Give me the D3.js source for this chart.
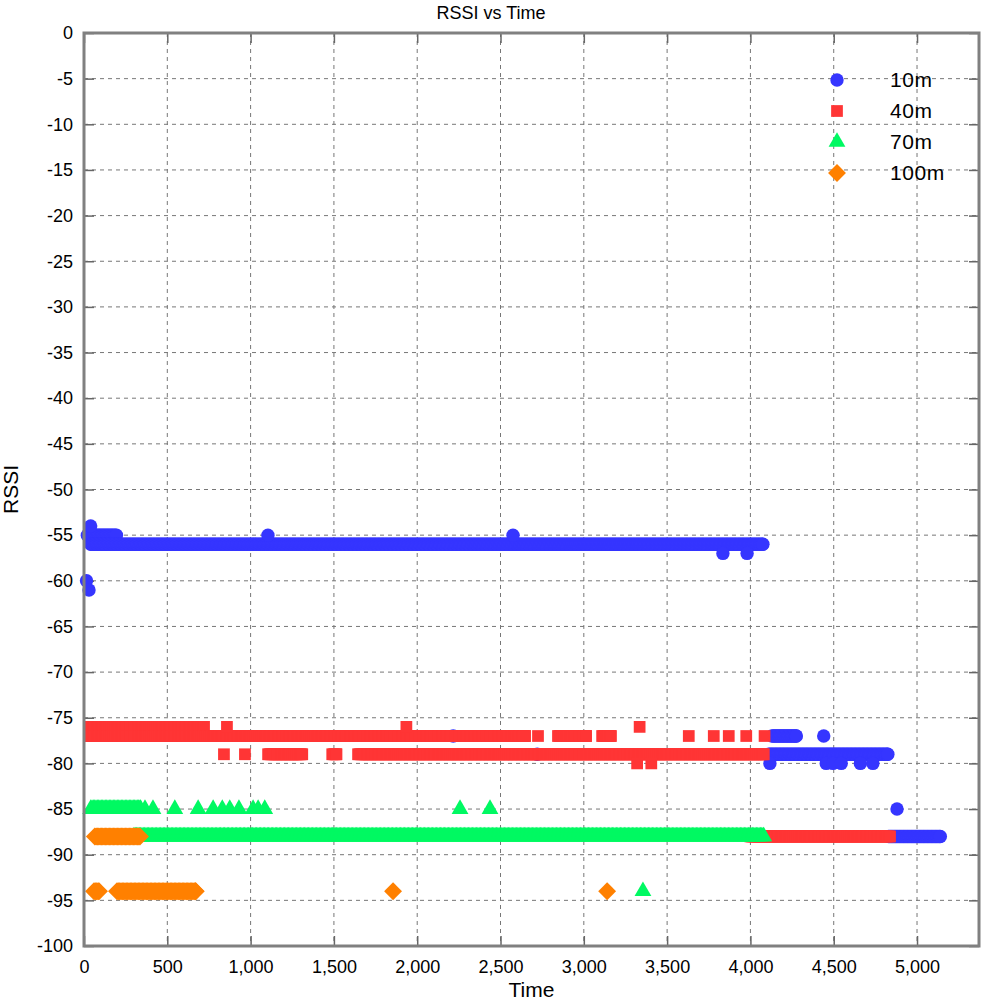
<!DOCTYPE html>
<html>
<head>
<meta charset="utf-8">
<script src="https://cdn.jsdelivr.net/npm/d3@7"></script>
<style>
  html, body { margin: 0; padding: 0; background: #fff; }
  svg { display: block; font-family: "Liberation Sans", Arial, Helvetica, sans-serif; }
</style>
</head>
<body>
<svg id="chart" width="984" height="1000"></svg>
<script>
// ---------------- DATA ----------------
const chartTitle = "RSSI vs Time";
const xLabel = "Time";
const yLabel = "RSSI";
const timeTicks = [0, 500, 1000, 1500, 2000, 2500, 3000, 3500, 4000, 4500, 5000];
const rssiTicks = [0, -5, -10, -15, -20, -25, -30, -35, -40, -45, -50, -55, -60, -65, -70, -75, -80, -85, -90, -95, -100];
const seriesNames = ["10m", "40m", "70m", "100m"];

// Dense runs of consecutive samples: [startTime, endTime, rssi]
const runs10m = [[20, 195, -55], [40, 4075, -56], [4110, 4825, -79], [4130, 4275, -77], [4830, 5140, -88]];
const runs40m = [[30, 720, -76], [30, 2647, -77], [1105, 1310, -79], [1490, 1515, -79], [1645, 4080, -79], [2845, 3013, -77], [3110, 3163, -77], [4000, 4838, -88]];
const runs70m = [[40, 340, -85], [300, 4080, -88]];
const runs100m = [[65, 336, -88], [60, 90, -94], [198, 670, -94]];

// Isolated samples: [time, rssi]
const points10m = [[40, -54], [15, -60], [30, -61], [1104, -55], [2575, -55], [3835, -57], [3980, -57], [2216, -77], [2720, -79],
  [4440, -77], [4117, -80], [4455, -80], [4495, -80], [4545, -80], [4660, -80], [4735, -80], [4880, -85]];
const points40m = [[858, -76], [1935, -76], [3335, -76], [840, -79], [966, -79], [2725, -77], [3630, -77], [3780, -77], [3870, -77],
  [3975, -77], [4085, -77], [3320, -80], [3405, -80]];
const points70m = [[366, -85], [414, -85], [545, -85], [685, -85], [775, -85], [830, -85], [875, -85], [930, -85], [1015, -85],
  [1045, -85], [1085, -85], [2257, -85], [2437, -85], [3355, -94]];
const points100m = [[1855, -94], [3140, -94]];

const sampleStep = 8; // spacing of samples within a dense run

// ---------------- CHART ----------------
const svg = d3.select("#chart");
const mLeft = 84, mRight = 979, mTop = 33, mBottom = 946;

const x = d3.scaleLinear().domain([0, 5372]).range([mLeft, mRight]);
const y = d3.scaleLinear().domain([-100, 0]).range([mBottom, mTop]);

const colors = ["#3535ff", "#ff3535", "#00f962", "#ff8000"];
const symbols = [
  d3.symbol().type(d3.symbolCircle).size(141),
  d3.symbol().type(d3.symbolSquare).size(138),
  d3.symbol().type(d3.symbolTriangle).size(122),
  d3.symbol().type(d3.symbolSquare).size(160)
];
const rotations = [0, 0, 0, 45];

function expand(runs, pts) {
  const out = [];
  runs.forEach(([t0, t1, v]) => {
    for (let t = t0; t <= t1; t += sampleStep) out.push([t, v]);
    out.push([t1, v]);
  });
  pts.forEach(p => out.push(p));
  return out;
}
const allSeries = [
  expand(runs10m, points10m),
  expand(runs40m, points40m),
  expand(runs70m, points70m),
  expand(runs100m, points100m)
];

// grid
const grid = svg.append("g");
grid.selectAll("line.v").data(timeTicks.filter(t => t > 0)).join("line")
  .attr("x1", d => x(d)).attr("x2", d => x(d)).attr("y1", mTop).attr("y2", mBottom)
  .attr("stroke", "#777").attr("stroke-width", 1).attr("stroke-dasharray", "4,4");
grid.selectAll("line.h").data(rssiTicks.filter(t => t > -100 && t < 0)).join("line")
  .attr("x1", mLeft).attr("x2", mRight).attr("y1", d => y(d)).attr("y2", d => y(d))
  .attr("stroke", "#777").attr("stroke-width", 1).attr("stroke-dasharray", "4,4");

// axes with inner ticks
const tickLen = 10;
const axB = svg.append("g").attr("transform", `translate(0,${mBottom})`)
  .call(d3.axisBottom(x).tickValues(timeTicks).tickSize(-tickLen).tickPadding(14).tickFormat(d3.format(",")));
const axT = svg.append("g").attr("transform", `translate(0,${mTop})`)
  .call(d3.axisTop(x).tickValues(timeTicks).tickSize(-tickLen).tickFormat(""));
const axL = svg.append("g").attr("transform", `translate(${mLeft},0)`)
  .call(d3.axisLeft(y).tickValues(rssiTicks).tickSize(-tickLen).tickPadding(11).tickFormat(d => String(d)));
const axR = svg.append("g").attr("transform", `translate(${mRight},0)`)
  .call(d3.axisRight(y).tickValues(rssiTicks).tickSize(-tickLen).tickFormat(""));
[axB, axT, axL, axR].forEach(a => {
  a.select(".domain").remove();
  a.selectAll(".tick line").attr("stroke", "#666").attr("stroke-width", 1.5);
  a.selectAll(".tick text").attr("fill", "#000").style("font-size", "18px")
    .style("font-family", "'Liberation Sans', Arial, sans-serif");
});
axB.selectAll(".tick text").attr("dy", "0.71em");

// data
const plot = svg.append("g");
allSeries.forEach((data, i) => {
  plot.append("g").selectAll("path").data(data).join("path")
    .attr("d", symbols[i])
    .attr("transform", d => `translate(${x(d[0])},${y(d[1])}) rotate(${rotations[i]})`)
    .attr("fill", colors[i]);
});

// frame
svg.append("rect").attr("x", mLeft).attr("y", mTop).attr("width", mRight - mLeft).attr("height", mBottom - mTop)
  .attr("fill", "none").attr("stroke", "#808080").attr("stroke-width", 3);

// titles
svg.append("text").attr("x", 491).attr("y", 19).attr("text-anchor", "middle")
  .style("font-size", "18px").text(chartTitle);
svg.append("text").attr("x", (mLeft + mRight) / 2).attr("y", 997).attr("text-anchor", "middle")
  .style("font-size", "21px").text(xLabel);
svg.append("text").attr("transform", `translate(18,${(mTop + mBottom) / 2}) rotate(-90)`).attr("text-anchor", "middle")
  .style("font-size", "21px").text(yLabel);

// legend
const legendY = [80, 111, 142, 173];
const lg = svg.append("g");
seriesNames.forEach((name, i) => {
  lg.append("path").attr("d", symbols[i])
    .attr("transform", `translate(837,${legendY[i]}) rotate(${rotations[i]})`)
    .attr("fill", colors[i]);
  lg.append("text").attr("x", 890).attr("y", legendY[i]).attr("dy", "0.35em")
    .style("font-size", "21px").style("letter-spacing", "0.6px").text(name);
});
</script>
</body>
</html>
